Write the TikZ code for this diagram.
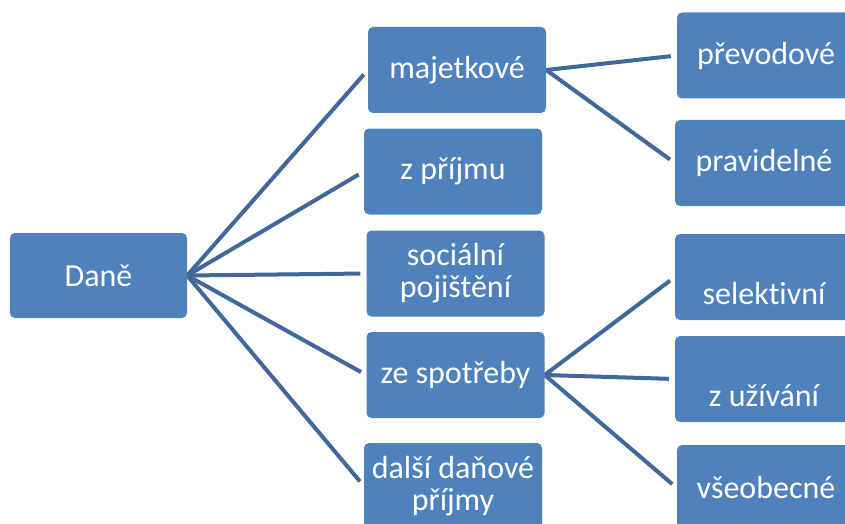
\documentclass[tikz,border=0pt]{standalone}
\usepackage{fontspec}
\setmainfont{Carlito}[Ligatures=NoCommon]
\usetikzlibrary{backgrounds}
\definecolor{boxblue}{RGB}{79,129,189}
\definecolor{linkblue}{RGB}{64,104,156}
\tikzset{
  box/.style={fill=boxblue, rounded corners=5pt, minimum width=178pt,
    minimum height=86pt, inner sep=0pt, text=white, align=center,
    font=\fontsize{32}{32}\selectfont},
  conn/.style={draw=linkblue, line width=4pt, shorten >=6pt},
}
\begin{document}
\begin{tikzpicture}[x=1pt,y=-1pt]
\clip (0,0) rectangle (845,524);
% level 0
\node[box, minimum width=177pt, minimum height=85pt] (dane) at (98.5,275.5) {Daně};
% level 1
\node[box] (maj)  at (457,70)    {majetkové};
\node[box] (pri)  at (453,171.5) {z příjmu};
\node[box] (soc)  at (455.5,273.5) {sociální\\pojištění};
\node[box] (spot) at (455.5,375) {ze spotřeby};
\node[box] (dal)  at (453,486)   {další daňové\\příjmy};
% level 2
\node[box] (prev) at (766,55.5)  {převodové};
\node[box] (prav) at (764,163)   {pravidelné};
\node[box] (sel)  at (764,277)   {\raisebox{-17pt}[\height][\depth]{selektivní}};
\node[box] (uzi)  at (764,379)   {\raisebox{-17pt}[\height][\depth]{z užívání}};
\node[box] (vse)  at (766,488)   {všeobecné};
% connectors
\begin{scope}[on background layer]
\draw[conn] (dane.east) -- (maj.west);
\draw[conn] (dane.east) -- (pri.west);
\draw[conn] (dane.east) -- (soc.west);
\draw[conn] (dane.east) -- (spot.west);
\draw[conn] (dane.east) -- (dal.west);
\draw[conn] (maj.east) -- (prev.west);
\draw[conn] (maj.east) -- (prav.west);
\draw[conn] (spot.east) -- (sel.west);
\draw[conn] (spot.east) -- (uzi.west);
\draw[conn] (spot.east) -- (vse.west);
\end{scope}
\end{tikzpicture}
\end{document}
